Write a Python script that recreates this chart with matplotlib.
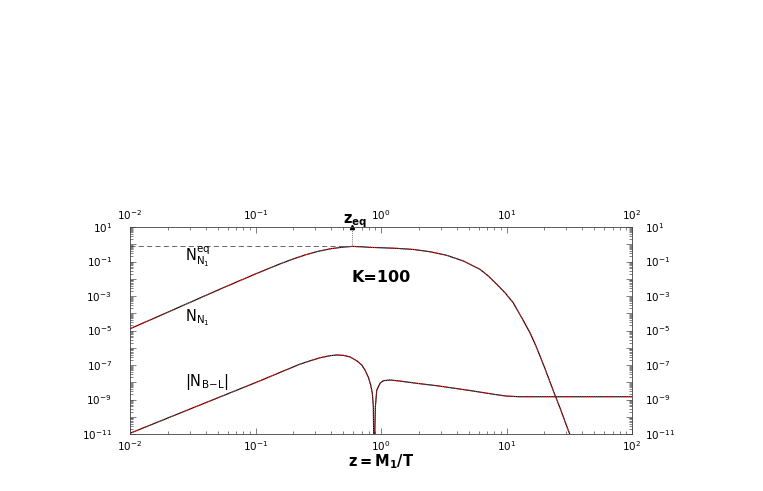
import math
import matplotlib
matplotlib.use('Agg')
from matplotlib import pyplot as plt
from matplotlib.ticker import LogLocator, NullFormatter, LogFormatterSciNotation

# values
z_nn1 = [0.01, 0.0178, 0.0316, 0.0562, 0.1, 0.126, 0.158, 0.2, 0.251, 0.316,
         0.398, 0.50, 0.59, 0.708, 0.817, 1.0, 1.35, 1.81, 2.45, 3.33, 4.53,
         6.15, 7.16, 8.36, 9.73, 11.3, 13.2, 15.4, 17.4, 20.0, 23.5, 26.9,
         30.2, 33.1]
n_nn1 = [1.26e-5, 7.9e-5, 5.0e-4, 3.16e-3, 1.9e-2, 3.8e-2, 7.4e-2, 0.141, 0.245,
         0.39, 0.55, 0.684, 0.75, 0.71, 0.66, 0.63, 0.575, 0.50, 0.37, 0.23,
         0.107, 3.5e-2, 1.45e-2, 4.8e-3, 1.55e-3, 4.1e-4, 5.6e-5, 7.4e-6,
         1.0e-6, 7.9e-8, 3.5e-9, 2.8e-10, 2.8e-11, 5.0e-12]

z_nbl = [0.01, 0.0316, 0.1, 0.126, 0.158, 0.226, 0.272, 0.327, 0.393, 0.444,
         0.501, 0.566, 0.640, 0.702, 0.746, 0.793, 0.828, 0.853, 0.869, 0.879,
         0.902, 0.925, 0.982, 1.045, 1.18, 1.42, 1.92, 2.78, 5.0, 7.94, 10.0,
         12.6, 100.0]
n_nbl = [1.1e-11, 3.24e-10, 9.5e-9, 1.9e-8, 3.8e-8, 1.12e-7, 1.74e-7, 2.63e-7,
         3.47e-7, 3.8e-7, 3.63e-7, 2.95e-7, 1.78e-7, 1.0e-7, 5.1e-8, 1.95e-8,
         6.9e-9, 2.3e-9, 3.8e-10, 1.0e-13, 3.8e-10, 3.5e-9, 8.7e-9, 1.23e-8,
         1.35e-8, 1.17e-8, 8.7e-9, 6.3e-9, 3.4e-9, 2.0e-9, 1.58e-9, 1.45e-9,
         1.45e-9]

z_eq = 0.59
n_eq_start = 0.75
k_value = 100

base_fmt = LogFormatterSciNotation()


def odd_decades(value, pos):
    # only every second decade gets a label on y
    exp = int(round(math.log10(value)))
    if exp % 2 == 0:
        return ''
    return base_fmt(value, pos)


def set_log_ticks(axis, numticks):
    axis.set_major_locator(LogLocator(base=10, numticks=numticks))
    axis.set_minor_locator(LogLocator(base=10, subs=range(2, 10), numticks=numticks * 2))
    axis.set_minor_formatter(NullFormatter())


def style_axis(ax):
    ax.set_xscale('log')
    ax.set_yscale('log')
    ax.set_xlim(1e-2, 1e2)
    ax.set_ylim(1e-11, 1e1)
    for spine in ax.spines.values():
        spine.set_linewidth(0.6)
        spine.set_color('0.25')

    set_log_ticks(ax.xaxis, 10)
    set_log_ticks(ax.yaxis, 20)
    ax.yaxis.set_major_formatter(plt.FuncFormatter(odd_decades))

    ax.tick_params(which='both', direction='in', top=True, right=True,
                   width=0.5, color='0.3', labelsize=7.5)
    ax.tick_params(which='major', length=4.5)
    ax.tick_params(which='minor', length=2.5)
    ax.tick_params(axis='x', which='major', pad=3.5, labeltop=True)
    ax.tick_params(axis='y', which='major', pad=13)

    # right side labels sit closer to the frame than the left ones
    right = ax.secondary_yaxis('right')
    set_log_ticks(right.yaxis, 20)
    right.yaxis.set_major_formatter(plt.FuncFormatter(odd_decades))
    right.tick_params(which='both', direction='in', length=0, labelsize=7.5, pad=9.5)
    right.spines['right'].set_visible(False)


def make_plot():
    fig = plt.figure(figsize=(7.63, 4.91), dpi=100)
    ax = fig.add_axes([130 / 763, 57 / 491, 502 / 763, 207 / 491])
    style_axis(ax)

    # black solid = numerical, red dotted = analytic on top
    ax.plot(z_nn1, n_nn1, color='black', linewidth=0.8)
    ax.plot(z_nn1, n_nn1, color='#e8282a', linewidth=0.8, linestyle=(0, (1, 1)))
    ax.plot(z_nbl, n_nbl, color='black', linewidth=0.8)
    ax.plot(z_nbl, n_nbl, color='#e8282a', linewidth=0.8, linestyle=(0, (1, 1)))

    # equilibrium level and z_eq marker
    ax.plot([1e-2, z_eq], [n_eq_start, n_eq_start], color='0.3', linewidth=0.6,
            linestyle=(0, (6, 4)))
    ax.plot([z_eq, z_eq], [n_eq_start, 1e1], color='0.3', linewidth=0.6,
            linestyle=(0, (1, 1.5)))
    ax.plot([z_eq], [1e1], marker='^', markersize=3, color='black', clip_on=False)
    ax.annotate(r'$\mathbf{z_{eq}}$', xy=(z_eq, 1.0), xycoords=ax.get_xaxis_transform(),
                xytext=(2, 3), textcoords='offset points', ha='center', va='baseline',
                fontsize=10.5, fontweight='bold')

    ax.text(0.0274, 0.107, r'$N_{N_1}^{eq}$', fontsize=10.5, ha='left', va='baseline')
    ax.text(0.0274, 3.5e-5, r'$N_{N_1}$', fontsize=10.5, ha='left', va='baseline')
    ax.text(0.0274, 6.0e-9, r'$|N_{B\!-\!L}|$', fontsize=10.5, ha='left', va='baseline')
    ax.text(0.577, 6.8e-3, f'K={k_value}', fontsize=11.5, fontweight='bold',
            ha='left', va='baseline')

    ax.set_xlabel(r'$\mathbf{z=M_1/T}$', fontsize=10.5, labelpad=0)
    return fig


def main():
    plt.rcParams['mathtext.default'] = 'regular'
    plt.rcParams['font.family'] = ['DejaVu Sans']
    fig = make_plot()
    fig.savefig('out.png', dpi=100)


if __name__ == '__main__':
    main()
